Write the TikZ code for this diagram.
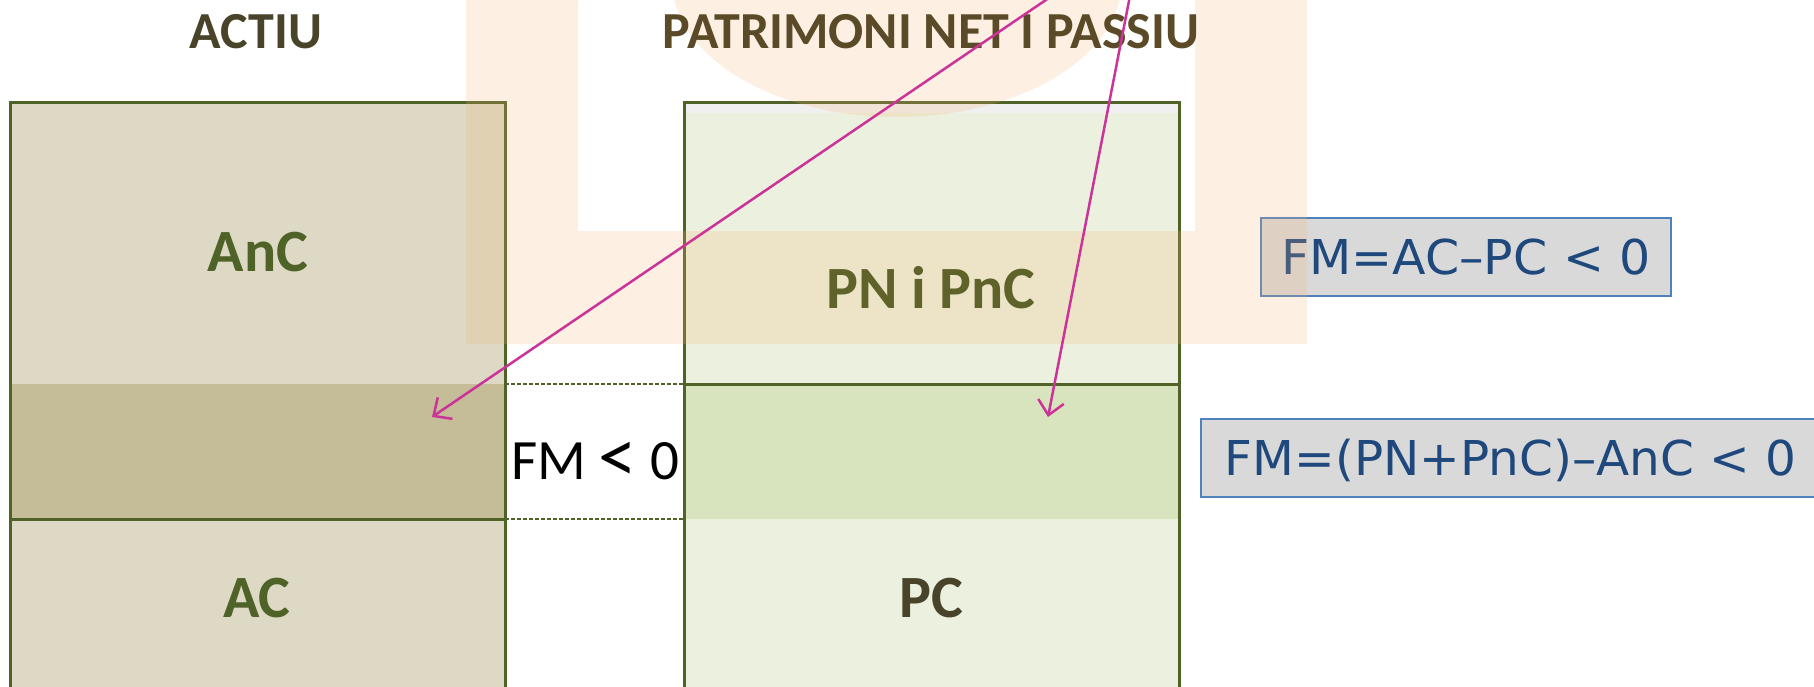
\documentclass[tikz,border=0pt]{standalone}
\usepackage{fontspec}
\setmainfont{Carlito}
\newfontfamily\fmfont{DejaVu Sans}
\usetikzlibrary{arrows.meta}
\definecolor{boxline}{HTML}{4F6228}
\definecolor{tanlight}{HTML}{DDD9C4}
\definecolor{tanband}{HTML}{C4BD97}
\definecolor{grnlight}{HTML}{EBF1DE}
\definecolor{grnband}{HTML}{D7E4BD}
\definecolor{grntop}{HTML}{F0F0F0}
\definecolor{darktxt}{HTML}{494429}
\definecolor{darktxtwm}{HTML}{5A4A28}
\definecolor{boxlinewm}{HTML}{5F6329}
\definecolor{fmtxt}{HTML}{1F497D}
\definecolor{fmline}{HTML}{4F81BD}
\definecolor{fmfill}{HTML}{D9D9D9}
\definecolor{wmark}{RGB}{245,180,115}
\definecolor{arrowcol}{HTML}{CC3399}
\tikzset{
  cell/.style={anchor=north west, inner sep=0pt, outer sep=0pt, minimum width=495pt},
  border/.style={draw=boxline, line width=3pt},
  gapline/.style={draw=boxline, line width=1.5pt, dash pattern=on 4pt off 2pt},
  head/.style={anchor=base, font=\bfseries\fontsize{52}{60}\selectfont},
  celltxt/.style={anchor=base, font=\bfseries\fontsize{60}{70}\selectfont},
  fmbox/.style={draw=fmline, line width=1.8pt, fill=fmfill, text=fmtxt, inner sep=0pt, outer sep=0pt,
    font=\fmfont\fontsize{48}{56}\selectfont, text height=35pt, text depth=0pt},
  wm/.style={fill=wmark, fill opacity=0.2},
  pointer/.style={draw=arrowcol, line width=2.5pt, -{Straight Barb[length=14pt,width=26pt]}}
}
\begin{document}
\begin{tikzpicture}[x=1pt,y=-1pt]
\useasboundingbox (0,0) rectangle (1814,686);
\clip (0,0) rectangle (1814,686);
% cells (fills)
\node[cell, fill=tanlight, minimum height=417pt] (anc) at (10,102) {};
\node[cell, fill=tanlight, minimum height=200pt] (ac) at (10,519) {};
\node[cell, fill=tanband, minimum height=135pt] (bandl) at (10,384) {};
\node[cell, fill=grnlight, minimum height=282pt] (pn) at (684,102) {};
\node[cell, fill=grntop, minimum height=11pt] (pntop) at (684,102) {};
\node[cell, fill=grnlight, minimum height=320pt] (pc) at (684,384) {};
\node[cell, fill=grnband, minimum height=135pt] (bandr) at (684,384) {};
% borders
\draw[border] (anc.north west) rectangle (anc.south east);
\draw[border] (ac.north west) rectangle (ac.south east);
\draw[border] (pn.north west) rectangle (pn.south east);
\draw[border] (pc.north west) rectangle (pc.south east);
% dashed guide lines across the gap
\draw[gapline] (bandl.north east) -- (pn.south west);
\draw[gapline] (anc.south east) -- (bandr.south west);
% formula boxes
\node[fmbox, minimum width=410pt, minimum height=78pt] (f1) at (1466,257) {\scalebox{1.02}[1]{FM=AC–PC < 0}};
\node[fmbox, minimum width=619pt, minimum height=78pt] (f2) at (1510.5,458) {\scalebox{1.01}[1]{FM=(PN+PnC)–AnC < 0}};
% faint watermark
\fill[wm, even odd rule] (466,0) rectangle (1307,344) (578,0) rectangle (1195,231);
\fill[wm] (897,-20) ellipse [x radius=225, y radius=137];
% headings and labels
\node[head, text=darktxt] (hA) at (256,48) {ACTIU};
\node[head, text=darktxtwm] (hP) at (931,48) {PATRIMONI NET I PASSIU};
\node[celltxt, text=boxline] (tAnC) at (258,271) {AnC};
\node[celltxt, text=boxline] (tAC) at (257,617) {AC};
\node[celltxt, text=boxlinewm] (tPN) at (931,308) {PN i PnC};
\node[celltxt, text=darktxt] (tPC) at (931,617) {PC};
\node[anchor=base, font=\fontsize{57}{66}\selectfont] (fm) at (595,479) {FM \raisebox{-3pt}{\scalebox{1.35}{<}} 0};
% pointers
\coordinate (s1) at (1090,-30);
\coordinate (t1) at (432,417);
\coordinate (s2) at (1135,-30);
\coordinate (t2) at (1048,417);
\draw[pointer] (s1) -- (t1);
\draw[pointer] (s2) -- (t2);
\end{tikzpicture}
\end{document}
